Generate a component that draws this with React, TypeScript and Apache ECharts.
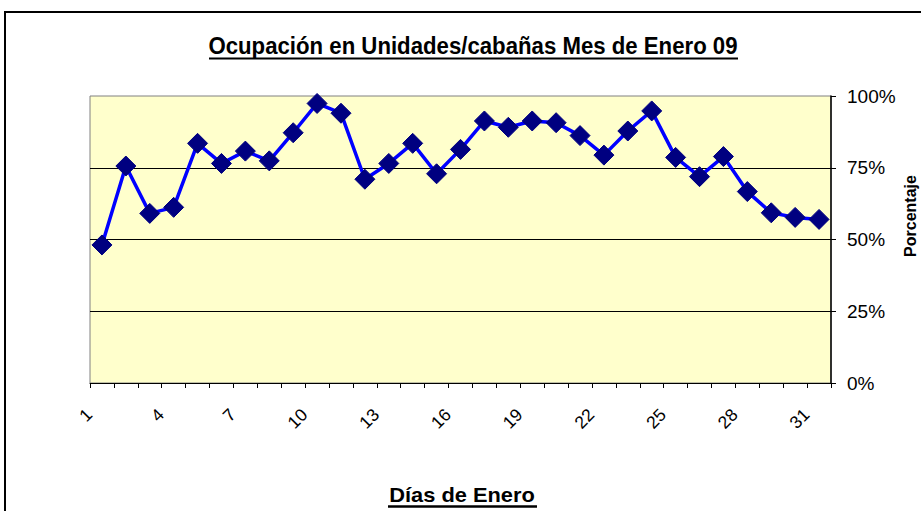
import React, { useEffect, useRef } from "react";
import * as echarts from "echarts";

const days: string[] = Array.from({ length: 31 }, (_, i) => String(i + 1));
const occupancy: number[] = [
  48.1, 75.6, 59.1, 61.2, 83.5, 76.5, 80.8, 77.4, 87.2, 97.4,
  94.0, 71.0, 76.5, 83.5, 72.9, 81.4, 91.3, 89.1, 91.3, 90.7,
  86.2, 79.4, 87.8, 94.8, 78.6, 71.9, 78.9, 66.7, 59.3, 57.7, 57.0,
];
const yTicks: number[] = [0, 25, 50, 75, 100];

const titleText = "Ocupación en Unidades/cabañas Mes de Enero 09";
const xName = "Días de Enero";
const yName = "Porcentaje";

const FONT = "'Liberation Sans', Arial, sans-serif";

export default function App() {
  const ref = useRef<HTMLDivElement>(null);
  useEffect(() => {
    document.body.style.margin = "0";
    if (!ref.current) return;
    const chart = echarts.init(ref.current, null, { renderer: "svg" });
    chart.setOption({
      animation: false,
      backgroundColor: "#ffffff",
      textStyle: { fontFamily: FONT },
      grid: {
        left: 90,
        right: 90,
        top: 96,
        bottom: 128,
        show: true,
        backgroundColor: "#FFFFCC",
        borderColor: "#808080",
        borderWidth: 1,
      },
      xAxis: {
        type: "category",
        data: days,
        boundaryGap: true,
        axisLine: { show: true, lineStyle: { color: "#000", width: 1 } },
        axisTick: { show: true, interval: 0, length: 5, lineStyle: { color: "#000" } },
        axisLabel: {
          interval: 2,
          rotate: 45,
          margin: 16,
          padding: [0, 18, 0, 0],
          fontSize: 17.5,
          color: "#000",
          fontFamily: FONT,
        },
        splitLine: { show: false },
      },
      yAxis: {
        type: "value",
        position: "right",
        min: yTicks[0],
        max: yTicks[yTicks.length - 1],
        interval: 25,
        axisLine: { show: true, lineStyle: { color: "#000", width: 1.5 } },
        axisTick: { show: true, length: 5, inside: false, lineStyle: { color: "#000" } },
        axisLabel: {
          formatter: "{value}%",
          fontSize: 19,
          color: "#000",
          margin: 16,
          fontFamily: FONT,
        },
        splitLine: {
          show: true,
          showMinLine: false,
          showMaxLine: false,
          lineStyle: { color: "#000", width: 1 },
        },
      },
      series: [
        {
          type: "line",
          data: occupancy,
          symbol: "diamond",
          symbolSize: 20,
          showAllSymbol: true,
          lineStyle: { color: "#0000FF", width: 3.5 },
          itemStyle: { color: "#000080", borderColor: "#000080" },
          z: 3,
        },
      ],
      graphic: [
        {
          type: "rect",
          shape: { x: 5, y: 12, width: 940, height: 520 },
          style: { fill: "none", stroke: "#000", lineWidth: 2 },
          silent: true,
        },
        {
          type: "text",
          x: 473,
          y: 46,
          scaleX: 0.925,
          style: {
            text: titleText,
            fontSize: 24,
            fontWeight: "bold",
            fontFamily: FONT,
            fill: "#000",
            align: "center",
            verticalAlign: "middle",
          },
        },
        {
          type: "line",
          shape: { x1: 209, y1: 58.5, x2: 738, y2: 58.5 },
          style: { stroke: "#000", lineWidth: 2 },
        },
        {
          type: "text",
          x: 462,
          y: 495,
          scaleX: 1.12,
          style: {
            text: xName,
            fontSize: 19.5,
            fontWeight: "bold",
            fontFamily: FONT,
            fill: "#000",
            align: "center",
            verticalAlign: "middle",
          },
        },
        {
          type: "line",
          shape: { x1: 388, y1: 506.5, x2: 537, y2: 506.5 },
          style: { stroke: "#000", lineWidth: 2.5 },
        },
        {
          type: "text",
          x: 910,
          y: 216,
          rotation: Math.PI / 2,
          style: {
            text: yName,
            fontSize: 16,
            fontWeight: "bold",
            fontFamily: FONT,
            fill: "#000",
            align: "center",
            verticalAlign: "middle",
          },
        },
      ],
    });
    return () => chart.dispose();
  }, []);
  return <div ref={ref} style={{ width: 921, height: 511 }} />;
}
